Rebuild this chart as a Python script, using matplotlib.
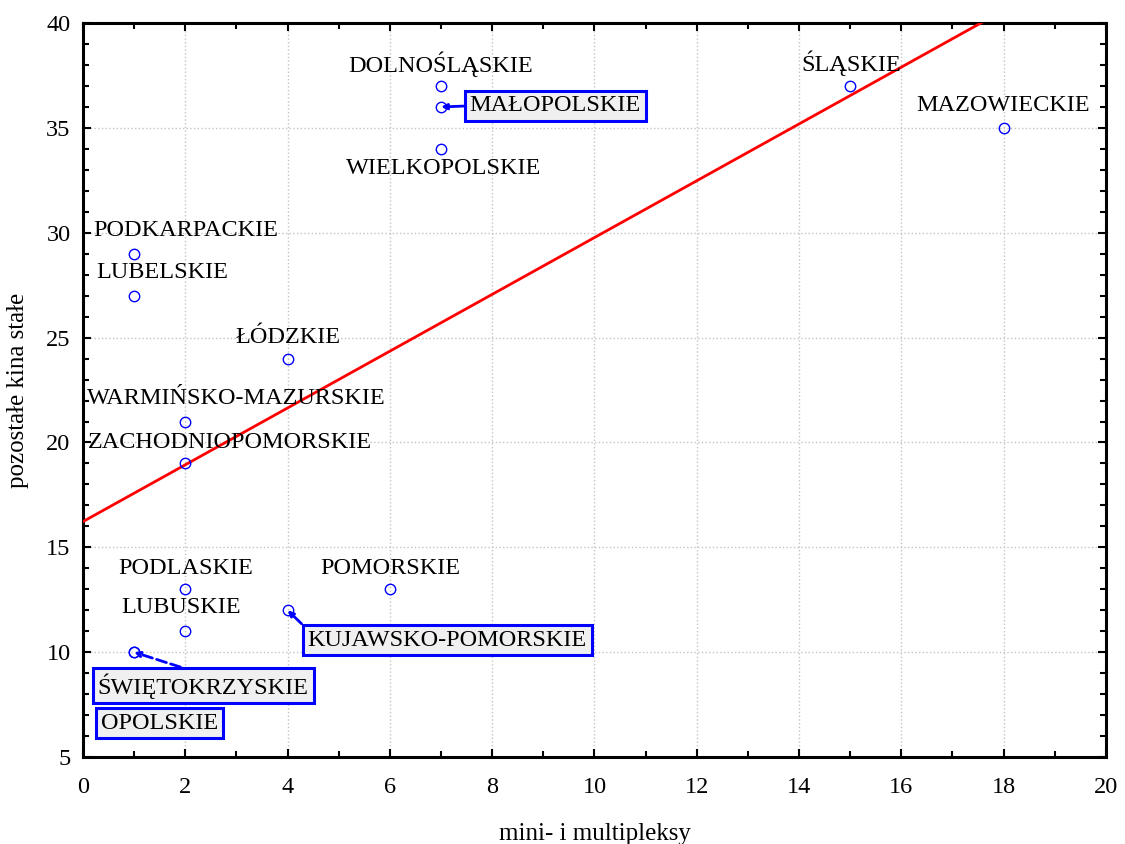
import numpy as np
import matplotlib
matplotlib.use("Agg")
import matplotlib.pyplot as plt
from matplotlib.ticker import MultipleLocator

plt.rcParams['font.family'] = ['Liberation Serif', 'DejaVu Serif']

# data: cinemas by voivodeship
regions = ["DOLNOŚLĄSKIE", "MAŁOPOLSKIE", "WIELKOPOLSKIE", "ŚLĄSKIE",
           "MAZOWIECKIE", "PODKARPACKIE", "LUBELSKIE", "ŁÓDZKIE",
           "WARMIŃSKO-MAZURSKIE", "ZACHODNIOPOMORSKIE", "PODLASKIE",
           "POMORSKIE", "LUBUSKIE", "KUJAWSKO-POMORSKIE",
           "ŚWIĘTOKRZYSKIE", "OPOLSKIE"]
multiplexes = [7, 7, 7, 15, 18, 1, 1, 4, 2, 2, 2, 6, 2, 4, 1, 1]
other_cinemas = [37, 36, 34, 37, 35, 29, 27, 24, 21, 19, 13, 13, 11, 12, 10, 10]

# label placement (x, y) for plain labels
plain_labels = {
    "DOLNOŚLĄSKIE": (7.0, 38.05),
    "WIELKOPOLSKIE": (7.05, 33.05),
    "ŚLĄSKIE": (15.03, 38.1),
    "MAZOWIECKIE": (18.0, 36.05),
    "PODKARPACKIE": (2.0, 30.1),
    "LUBELSKIE": (1.54, 28.1),
    "ŁÓDZKIE": (4.0, 25.0),
    "WARMIŃSKO-MAZURSKIE": (3.0, 22.1),
    "ZACHODNIOPOMORSKIE": (2.87, 20.0),
    "PODLASKIE": (2.0, 14.0),
    "POMORSKIE": (6.0, 14.0),
    "LUBUSKIE": (1.92, 12.15),
}
# boxed labels with connector: (x, y, linestyle, relpos)
boxed_labels = {
    "MAŁOPOLSKIE": (9.23, 36.05, "-", (0.0, 0.5)),
    "KUJAWSKO-POMORSKIE": (7.12, 10.58, "-", (0.0, 1.0)),
    "ŚWIĘTOKRZYSKIE": (2.35, 8.4, "--", (0.48, 1.0)),
    "OPOLSKIE": (1.49, 6.62, None, None),
}

fig = plt.figure(figsize=(11.25, 8.44), dpi=100)
ax = fig.add_axes([0.0738, 0.103, 0.9092, 0.8697])

x = np.array(multiplexes, dtype=float)
y = np.array(other_cinemas, dtype=float)
slope, intercept = np.polyfit(x, y, 1)
xs = np.array([0, 20])
ax.plot(xs, intercept + slope * xs, color="red", lw=2, zorder=3)

ax.plot(x, y, "o", mfc="none", mec="blue", ms=7.5, mew=1.0, zorder=4)

for name, (tx, ty) in plain_labels.items():
    ax.text(tx, ty, name, ha="center", va="center", fontsize=17.5, zorder=5)

for name, (tx, ty, ls, rp) in boxed_labels.items():
    i = regions.index(name)
    px, py = multiplexes[i], other_cinemas[i]
    box = dict(boxstyle="square,pad=0.2", fc="#f0f0f0", ec="blue", lw=2.2)
    if ls is None:
        ax.text(tx, ty, name, ha="center", va="center", fontsize=17.5,
                bbox=box, zorder=6)
    else:
        ax.annotate(name, xy=(px, py), xytext=(tx, ty), ha="center",
                    va="center", fontsize=17.5, bbox=box, zorder=6,
                    arrowprops=dict(arrowstyle="-|>", color="blue", lw=2,
                                    ls=ls, relpos=rp, mutation_scale=8,
                                    shrinkA=0, shrinkB=0))

ax.set_xlim(0, 20)
ax.set_ylim(5, 40)
ax.xaxis.set_major_locator(MultipleLocator(2))
ax.xaxis.set_minor_locator(MultipleLocator(1))
ax.yaxis.set_major_locator(MultipleLocator(5))
ax.yaxis.set_minor_locator(MultipleLocator(1))
ax.tick_params(which="both", direction="in", top=True, right=True,
               width=1.5, labelsize=17.5)
ax.tick_params(which="major", length=6)
ax.tick_params(which="minor", length=4)
ax.tick_params(axis="x", which="major", pad=14)
ax.tick_params(axis="y", which="major", pad=9)
ax.grid(True, which="major", color="#c4c4c4", ls=":", lw=1)
for sp in ax.spines.values():
    sp.set_linewidth(2.2)

ax.set_xlabel("mini- i multipleksy", fontsize=18, labelpad=18)
ax.set_ylabel("pozostałe kina stałe", fontsize=18, labelpad=12)

fig.savefig("out.png", dpi=100)
